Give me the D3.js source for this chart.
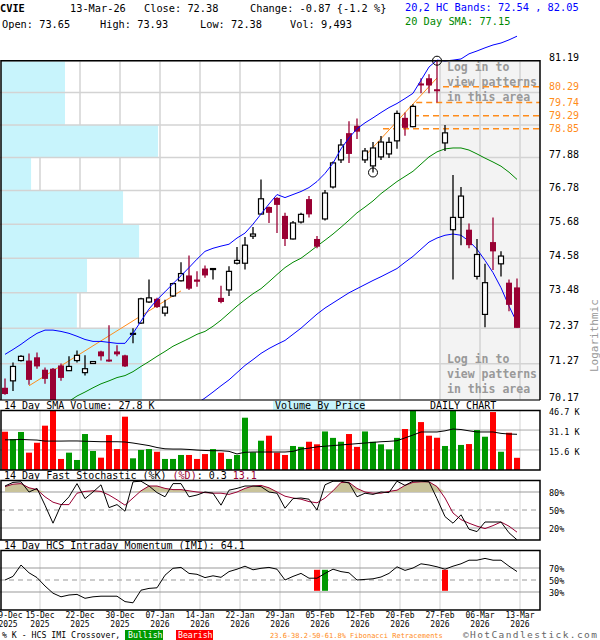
<!DOCTYPE html>
<html>
<head>
<meta charset="utf-8">
<script src="https://cdnjs.cloudflare.com/ajax/libs/d3/7.8.5/d3.min.js"></script>
<style>
body { margin: 0; background: #fff; }
svg { display: block; }
text { font-family: "DejaVu Sans Mono", "Liberation Mono", monospace; }
</style>
</head>
<body>
<div id="chart"></div>
<script>
// Daily data, 09-Dec-2025 .. 13-Mar-2026
var dates = ["2025-12-09","2025-12-10","2025-12-11","2025-12-12","2025-12-15","2025-12-16","2025-12-17","2025-12-18","2025-12-19",
	"2025-12-22","2025-12-23","2025-12-24","2025-12-26","2025-12-29","2025-12-30","2025-12-31",
	"2026-01-02","2026-01-05","2026-01-06","2026-01-07","2026-01-08","2026-01-09","2026-01-12","2026-01-13","2026-01-14","2026-01-15",
	"2026-01-16","2026-01-20","2026-01-21","2026-01-22","2026-01-23","2026-01-26","2026-01-27","2026-01-28","2026-01-29","2026-01-30",
	"2026-02-02","2026-02-03","2026-02-04","2026-02-05","2026-02-06","2026-02-09","2026-02-10","2026-02-11","2026-02-12","2026-02-13",
	"2026-02-17","2026-02-18","2026-02-19","2026-02-20","2026-02-23","2026-02-24","2026-02-25","2026-02-26","2026-02-27",
	"2026-03-02","2026-03-03","2026-03-04","2026-03-05","2026-03-06","2026-03-09","2026-03-10","2026-03-11","2026-03-12","2026-03-13"];

var opens = [70.54,70.75,71.37,71.37,71.47,71.09,71.12,71.22,71.06,71.37,71.00,71.28,71.65,71.40,71.65,71.53,
	72.18,72.53,73.19,73.29,72.84,73.38,73.86,74.03,73.90,74.25,74.24,73.32,73.57,74.42,74.42,75.29,76.01,76.24,76.54,75.95,
	75.20,75.75,76.50,75.20,75.85,76.90,77.80,78.70,78.95,77.80,77.60,77.90,78.00,78.44,79.22,78.92,80.40,80.58,80.20,
	78.37,75.50,75.90,75.50,74.00,72.80,75.10,74.40,73.80,73.65];
var highs = [70.82,71.31,71.53,71.59,71.62,71.16,71.14,71.28,71.50,71.68,71.53,71.36,71.67,72.46,71.84,71.55,
	72.37,73.32,73.90,73.32,73.26,73.80,74.45,74.67,74.16,74.35,74.27,73.70,74.32,74.94,75.26,75.59,77.15,76.26,76.56,76.05,
	75.78,76.05,76.60,75.30,76.80,77.75,78.50,79.10,79.20,78.20,78.40,78.60,78.56,79.47,79.40,79.68,80.58,80.72,81.19,
	78.98,77.30,76.90,75.70,75.20,74.40,75.90,74.80,73.90,73.93];
var lows = [70.33,70.44,71.34,70.63,71.12,70.66,70.05,70.75,71.06,71.31,70.91,71.27,71.37,71.33,71.50,71.17,
	71.90,72.50,73.16,73.00,72.74,73.35,73.84,73.57,73.67,73.96,73.90,73.15,73.38,74.38,74.22,75.20,76.00,75.72,75.39,74.97,
	75.18,75.70,75.90,74.90,75.80,76.85,77.70,77.70,78.50,77.70,77.38,77.80,77.86,78.17,78.61,78.90,80.06,80.06,79.74,
	78.10,73.90,75.00,74.90,73.90,72.40,74.20,74.00,72.90,72.38];
var closes = [70.35,71.19,71.50,70.78,71.19,70.81,70.07,70.84,71.19,71.53,71.12,71.34,71.50,71.34,71.56,71.19,
	72.21,73.29,73.32,73.03,73.03,73.77,74.09,73.61,73.83,74.03,74.25,73.19,74.16,74.51,75.00,75.36,76.51,76.05,76.31,75.20,
	75.72,76.00,76.00,74.95,76.70,77.70,78.30,78.00,78.75,78.10,78.20,78.40,78.39,79.37,78.88,79.61,80.33,80.33,80.13,
	78.71,75.90,76.60,75.00,74.70,73.80,74.80,74.65,73.10,72.38];
// volume, thousands of shares
var volumes = [29.8,24.1,29.6,13.5,21.2,34.5,46.7,8.6,13.5,7.8,28.0,14.8,9.6,27.2,16.3,41.5,
	9.1,15.6,16.3,14.2,8.6,8.6,11.7,11.7,8.6,12.4,16.3,13.5,8.6,11.7,40.7,13.8,22.8,26.7,13.5,11.7,
	18.7,18,22,20,30,25,22,28,18,30,22,20,16,25,31.9,46.1,37.3,26.7,25.1,
	18.7,46.1,19.5,20.2,31.1,25.9,45.1,14.2,29.0,9.493];
var volSma = [23.5,23.5,23.8,23.5,23.3,22.5,22.5,22.5,22.6,22.6,22.4,22.2,22.0,22.0,22.0,21.8,
	21.0,20.0,19.0,17.5,16.5,16.3,16.3,16.0,15.5,15.2,15.0,15.0,14.5,12.5,13.8,14.0,14.0,14.0,14.0,14.0,
	14.5,16.3,17.0,18.0,18.5,19.0,19.5,20.0,20.5,21.0,21.5,22.0,22.3,22.8,25.0,27.2,29.6,29.6,29.6,
	30.5,31.9,31.5,30.5,29.6,29.6,29.6,28.5,28.0,27.8];

var upperBand = [71.56,71.71,71.87,72.05,72.21,72.31,72.31,72.27,72.21,72.12,72.02,71.96,71.96,71.93,71.90,71.90,
	72.21,72.59,72.97,73.26,73.51,73.77,74.02,74.28,74.55,74.80,74.90,74.97,75.03,75.23,75.39,75.68,76.01,76.34,76.65,76.55,
	76.65,76.75,76.88,77.08,77.35,77.69,78.17,78.54,78.85,79.05,79.22,79.40,79.57,79.71,79.88,80.06,80.51,80.97,81.21,
	81.18,81.21,81.25,81.43,81.53,81.64,81.74,81.81,81.92,82.05];
var lowerBand = [null,null,null,null,null,null,null,null,null,null,null,null,null,null,null,null,
	null,null,null,null,null,null,null,null,70.07,70.23,70.41,70.60,70.78,71.00,71.22,71.40,71.59,71.74,71.87,71.99,
	72.18,72.37,72.59,72.81,73.00,73.16,73.32,73.48,73.61,73.74,73.87,73.99,74.12,74.25,74.45,74.64,74.87,75.10,75.23,
	75.32,75.36,75.32,75.13,74.87,74.51,74.12,73.64,73.06,72.54];
var sma20 = [null,null,null,null,null,null,null,null,70.13,70.29,70.41,70.54,70.66,70.75,70.85,70.91,
	71.03,71.19,71.34,71.50,71.65,71.81,71.93,72.05,72.18,72.27,72.43,72.62,72.84,73.06,73.26,73.45,73.61,73.83,74.06,74.28,
	74.45,74.58,74.77,74.97,75.16,75.36,75.58,75.81,76.05,76.24,76.44,76.68,76.88,77.08,77.25,77.42,77.66,77.90,78.07,
	78.17,78.20,78.20,78.13,78.00,77.86,77.73,77.59,77.39,77.15];

var stochK = [90,96,97,80,86,58,28,58,72,94,69,80,92,54,59,48,97,98,90,79,72,94,94,72,75,80,78,58,83,86,90,90,89,80,78,53,69,
	70,68,50,92,98,98,95,72,78,76,80,79,98,91,98,98,97,69,39,28,42,18,14,30,30,30,12,0.3];
var stochD = [89,93,94,87,84,72,63,59,59,78,81,82,81,75,67,58,70,82,90,90,86,84,84,82,80,79,78,78,76,80,86,90,91,87,80,73,70,
	68,64,62,70,82,96,96,86,80,78,78,81,83,91,96,97,97,89,70,45,34,28,23,19,24,30,23,13.1];
var imi = [50,56,75,62,54,40,28,22,25,26,19.5,22,23,23,23,14,12,33,36,37,58,69.5,71,61,59.5,54,57,54.5,64,68,73,67,69.5,71,68,50,56,
	61,53,53,61,68,64,62,50,51,52,55,61,72,66,70,77,75,72,68,73,77,83,83,86,83,83,73,64.1];

// IMI / %K crossovers: candle index and type
var crossIdx = [39, 40, 55];
var crossType = ["bear", "bull", "bear"];

// price axis levels and volume-by-price per level band (thousand shares)
var priceLevels = [81.19, 80.09, 78.98, 77.88, 76.78, 75.68, 74.58, 73.48, 72.37, 71.27, 70.17];
var vbpVolume = [91.5, 91.5, 224.5, 43, 174.5, 197.5, 123, 108.5, 201.5, 201.5];

// fibonacci retracements of the 77.38 -> 81.19 swing
var fibLevels = [80.29, 79.74, 79.29, 78.85];
var fibStart = [54.75, 51.4, 51, 47.25];
var swingHigh = {i: 54, p: 81.19};
var swingLow = {i: 46, p: 77.38};

// trendlines [index, price] pairs
var trendLines = [
	[[3, 70.60], [22, 73.54]],
	[[45, 77.93], [54, 80.59]]
];

var tickIdx = [0, 4, 9, 14, 19, 24, 29, 34, 39, 44, 49, 54, 59, 64];
var volTicks = [46.7, 31.1, 15.6];
var stochTicks = [80, 50, 20];
var imiTicks = [70, 50, 30];

var red = "#990033",
	grid = "#d3d3d3";

var svg = d3.select("#chart")
	.append("svg")
	.attr("width", 600)
	.attr("height", 640);

var parseDate = d3.timeParse("%Y-%m-%d");
var fmtDay = d3.timeFormat("%d-%b"),
	fmtYear = d3.timeFormat("%Y");

var data = dates.map(function (d, i) {
	return {
		i: i, date: parseDate(d), o: opens[i], h: highs[i], l: lows[i], c: closes[i],
		v: volumes[i], up: closes[i] >= opens[i]
	};
});

// scales
var x = d3.scaleLinear().domain([0, 64]).range([5, 517]);
var y = d3.scaleLog().domain([70.17, 81.19]).range([400, 60.7]);
var yVol = d3.scaleLinear().domain([0, 46.7]).range([470, 410]);
var yStoch = d3.scaleLinear().domain([0, 100]).range([540, 480]);
var yImi = d3.scaleLinear().domain([0, 100]).range([610, 550]);
var xVbp = d3.scaleLinear().domain([0, d3.max(vbpVolume)]).range([0, 157]);

function gx(i) { return x(i) + 3; }
var right = 540;

svg.append("defs").append("clipPath").attr("id", "pclip")
	.append("rect").attr("x", 0).attr("y", 0).attr("width", right).attr("height", 400);

// ---------- header ----------
var hdr = svg.append("g").attr("font-size", 10.3);
hdr.append("text").attr("x", 0).attr("y", 12).attr("font-weight", "bold").text("CVIE");
hdr.append("text").attr("x", 70).attr("y", 12).text("13-Mar-26");
hdr.append("text").attr("x", 144).attr("y", 12).text("Close: 72.38");
hdr.append("text").attr("x", 250).attr("y", 12).text("Change: -0.87 {-1.2 %}");
hdr.append("text").attr("x", 2).attr("y", 28).text("Open: 73.65");
hdr.append("text").attr("x", 100).attr("y", 28).text("High: 73.93");
hdr.append("text").attr("x", 200).attr("y", 28).text("Low: 72.38");
hdr.append("text").attr("x", 290).attr("y", 28).text("Vol: 9,493");
hdr.append("text").attr("x", 405).attr("y", 11).attr("fill", "#0000ff").text("20,2 HC Bands: 72.54 , 82.05");
hdr.append("text").attr("x", 405).attr("y", 25).attr("fill", "#008800").text("20 Day SMA: 77.15");

// ---------- price panel ----------
var pg = svg.append("g");
var xLogin = gx(54);

pg.append("rect").attr("x", xLogin).attr("y", 60.7).attr("width", right - xLogin).attr("height", 400 - 60.7)
	.attr("fill", "#f3f3f3");

// vertical grid
pg.selectAll(".vg").data(tickIdx.slice(1)).enter().append("line")
	.attr("x1", gx).attr("x2", gx).attr("y1", 60.7).attr("y2", 400)
	.attr("stroke", grid).attr("stroke-width", 1.5);

// volume by price
pg.selectAll(".vbp").data(vbpVolume).enter().append("rect")
	.attr("x", 1)
	.attr("y", function (d, k) { return y(priceLevels[k]); })
	.attr("width", function (d) { return xVbp(d); })
	.attr("height", function (d, k) { return y(priceLevels[k + 1]) - y(priceLevels[k]); })
	.attr("fill", "#c8f4fc");

// horizontal grid
pg.selectAll(".hg").data(priceLevels).enter().append("line")
	.attr("x1", 0).attr("x2", right).attr("y1", y).attr("y2", y)
	.attr("stroke", grid).attr("stroke-width", 1.5);

// login notes
var lg = pg.append("g").attr("fill", "#999").attr("font-size", 11.5).attr("font-weight", "bold");
["Log in to", "view patterns", "in this area"].forEach(function (t, k) {
	lg.append("text").attr("x", 447).attr("y", 71 + 15 * k).text(t);
	lg.append("text").attr("x", 447).attr("y", 363 + 15 * k).text(t);
});

// axis labels
var yl = svg.append("g").attr("font-size", 10);
yl.selectAll("text").data(priceLevels.filter(function (p) { return p !== 80.09 && p !== 78.98; }))
	.enter().append("text")
	.attr("x", 549).attr("y", function (d) { return y(d) + 0.5; })
	.text(function (d) { return d.toFixed(2); });
yl.selectAll(".fl").data(fibLevels).enter().append("text")
	.attr("x", 549).attr("y", function (d) { return y(d) + 3.5; })
	.attr("fill", "#ff8c1a")
	.text(function (d) { return d.toFixed(2); });

svg.append("text").attr("transform", "translate(598,372) rotate(-90)")
	.attr("font-size", 11).attr("fill", "#999").text("Logarithmic");

var plot = pg.append("g").attr("clip-path", "url(#pclip)");

// fib lines
plot.selectAll(".fib").data(fibLevels).enter().append("line")
	.attr("x1", function (d, k) { return x(fibStart[k]); }).attr("x2", right)
	.attr("y1", y).attr("y2", y)
	.attr("stroke", "#ff8c1a").attr("stroke-width", 1.5).attr("stroke-dasharray", "6,4");

// bands and sma
function bandLine(arr) {
	return d3.line()
		.defined(function (d) { return d !== null; })
		.x(function (d, i) { return x(i); })
		.y(function (d) { return y(d); })(arr);
}
plot.append("path").attr("d", bandLine(lowerBand)).attr("fill", "none").attr("stroke", "#0000ff");
plot.append("path").attr("d", bandLine(sma20)).attr("fill", "none").attr("stroke", "#008800");
// upper band is allowed above the frame
pg.append("path").attr("d", bandLine(upperBand)).attr("fill", "none").attr("stroke", "#0000ff");

// trendlines
plot.selectAll(".tl").data(trendLines).enter().append("line")
	.attr("x1", function (d) { return x(d[0][0]); }).attr("y1", function (d) { return y(d[0][1]); })
	.attr("x2", function (d) { return x(d[1][0]); }).attr("y2", function (d) { return y(d[1][1]); })
	.attr("stroke", "#ff8c1a");

// candles
var cg = plot.selectAll(".candle").data(data).enter().append("g");
cg.append("line")
	.attr("x1", function (d) { return x(d.i); }).attr("x2", function (d) { return x(d.i); })
	.attr("y1", function (d) { return y(d.h); }).attr("y2", function (d) { return y(d.l); })
	.attr("stroke", function (d) { return d.up ? "#000" : red; }).attr("stroke-width", 1.3);
cg.append("rect")
	.attr("x", function (d) { return d.up ? x(d.i) - 2.5 : x(d.i) - 3; })
	.attr("width", function (d) { return d.up ? 5 : 6; })
	.attr("y", function (d) { return y(Math.max(d.o, d.c)); })
	.attr("height", function (d) { return Math.max(1, Math.abs(y(d.o) - y(d.c))); })
	.attr("fill", function (d) { return d.up ? "#fff" : red; })
	.attr("stroke", function (d) { return d.up ? "#000" : "none"; })
	.attr("stroke-width", 1.2);

// swing markers
[swingHigh, swingLow].forEach(function (s) {
	pg.append("circle").attr("cx", x(s.i)).attr("cy", y(s.p)).attr("r", 4.5)
		.attr("fill", "none").attr("stroke", "#000");
});

// frame
pg.append("path").attr("d", "M1,400V60.7H" + right + "V400").attr("fill", "none").attr("stroke", "#000").attr("stroke-width", 1.5);
pg.append("line").attr("x1", 0).attr("x2", right).attr("y1", 400).attr("y2", 400).attr("stroke", "#000");

// ---------- volume panel ----------
var vg = svg.append("g");
vg.append("rect").attr("x", 273).attr("y", 401).attr("width", 92).attr("height", 9).attr("fill", "#c8f4fc");
vg.append("text").attr("x", 4).attr("y", 409).attr("font-size", 10).text("14 Day SMA Volume: 27.8 K");
vg.append("text").attr("x", 275).attr("y", 409).attr("font-size", 10).text("Volume By Price");
vg.append("text").attr("x", 430).attr("y", 409).attr("font-size", 10).text("DAILY CHART");

vg.selectAll(".vgx").data(tickIdx.slice(1)).enter().append("line")
	.attr("x1", gx).attr("x2", gx).attr("y1", 410).attr("y2", 470).attr("stroke", grid);
vg.selectAll(".vgy").data(volTicks.slice(1)).enter().append("line")
	.attr("x1", 0).attr("x2", right).attr("y1", yVol).attr("y2", yVol).attr("stroke", "#aaa");

vg.selectAll(".vbar").data(data).enter().append("rect")
	.attr("x", function (d) { return x(d.i) - 3; }).attr("width", 6)
	.attr("y", function (d) { return yVol(d.v); })
	.attr("height", function (d) { return 470 - yVol(d.v); })
	.attr("fill", function (d) { return d.up ? "#009900" : "#ff0000"; });

vg.append("path")
	.attr("d", d3.line().x(function (d, i) { return x(i); }).y(function (d) { return yVol(d); })(volSma))
	.attr("fill", "none").attr("stroke", "#000");

vg.append("path").attr("d", "M1,470V410.5H" + right + "V470H0").attr("fill", "none").attr("stroke", "#000").attr("stroke-width", 1.5);
vg.selectAll(".vl").data(volTicks).enter().append("text")
	.attr("x", 549).attr("y", function (d) { return yVol(d) + 5; })
	.attr("font-size", 8.5).text(function (d) { return d.toFixed(1) + " K"; });

// ---------- stochastic panel ----------
var sg = svg.append("g");
var sh = sg.append("text").attr("x", 4).attr("y", 479).attr("font-size", 10);
sh.append("tspan").text("14 Day Fast Stochastic (%K) ");
sh.append("tspan").attr("fill", red).text("(%D)");
sh.append("tspan").text(": 0.3    ");
sh.append("tspan").attr("fill", red).text("13.1");

sg.selectAll(".sgx").data(tickIdx.slice(1)).enter().append("line")
	.attr("x1", gx).attr("x2", gx).attr("y1", 480).attr("y2", 540).attr("stroke", grid);
sg.selectAll(".sgy").data(stochTicks).enter().append("line")
	.attr("x1", 0).attr("x2", right).attr("y1", yStoch).attr("y2", yStoch)
	.attr("stroke", "#999").attr("stroke-dasharray", function (d) { return d === 50 ? "5,4" : null; });

sg.append("path")
	.attr("d", d3.area().x(function (d, i) { return x(i); })
		.y0(yStoch(80)).y1(function (d) { return yStoch(Math.max(80, d)); })(stochD))
	.attr("fill", "#c9c39a");
sg.append("path")
	.attr("d", d3.line().x(function (d, i) { return x(i); }).y(function (d) { return yStoch(d); })(stochD))
	.attr("fill", "none").attr("stroke", red);
sg.append("path")
	.attr("d", d3.line().x(function (d, i) { return x(i); }).y(function (d) { return yStoch(d); })(stochK))
	.attr("fill", "none").attr("stroke", "#000");

sg.append("path").attr("d", "M1,540V480.5H" + right + "V540H0").attr("fill", "none").attr("stroke", "#000").attr("stroke-width", 1.5);
sg.selectAll(".sl").data(stochTicks).enter().append("text")
	.attr("x", 549).attr("y", function (d) { return yStoch(d) + 3.5; })
	.attr("font-size", 8.5).text(function (d) { return d + "%"; });

// ---------- IMI panel ----------
var ig = svg.append("g");
ig.append("text").attr("x", 4).attr("y", 549).attr("font-size", 10).text("14 Day HCS Intraday Momentum (IMI): 64.1");

ig.selectAll(".igx").data(tickIdx.slice(1)).enter().append("line")
	.attr("x1", gx).attr("x2", gx).attr("y1", 550).attr("y2", 610).attr("stroke", grid);
ig.selectAll(".igy").data(imiTicks).enter().append("line")
	.attr("x1", 0).attr("x2", right).attr("y1", yImi).attr("y2", yImi)
	.attr("stroke", "#999").attr("stroke-dasharray", function (d) { return d === 50 ? "5,4" : null; });

ig.selectAll(".cross").data(crossIdx).enter().append("rect")
	.attr("x", function (d) { return x(d) - 3; }).attr("width", 6)
	.attr("y", yImi(67)).attr("height", yImi(32) - yImi(67))
	.attr("fill", function (d, k) { return crossType[k] === "bull" ? "#009900" : "#ff0000"; });

ig.append("path")
	.attr("d", d3.line().x(function (d, i) { return x(i); }).y(function (d) { return yImi(d); })(imi))
	.attr("fill", "none").attr("stroke", "#000");

ig.append("path").attr("d", "M1,610V550.5H" + right + "V610H0").attr("fill", "none").attr("stroke", "#000").attr("stroke-width", 1.5);
ig.selectAll(".il").data(imiTicks).enter().append("text")
	.attr("x", 549).attr("y", function (d) { return yImi(d) + 3.5; })
	.attr("font-size", 8.5).text(function (d) { return d + "%"; });

// ---------- date axis ----------
var xa = svg.append("g").attr("font-size", 8).attr("text-anchor", "middle");
tickIdx.forEach(function (i) {
	xa.append("text").attr("x", gx(i)).attr("y", 618).text(fmtDay(data[i].date));
	xa.append("text").attr("x", gx(i)).attr("y", 627).text(fmtYear(data[i].date));
});

// ---------- footer ----------
var ft = svg.append("g").attr("font-size", 8.2);
ft.append("text").attr("x", 2).attr("y", 638).text("% K - HCS IMI Crossover,");
ft.append("rect").attr("x", 125).attr("y", 630).attr("width", 38).attr("height", 10).attr("fill", "#009900");
ft.append("text").attr("x", 128).attr("y", 638).attr("fill", "#fff").text("Bullish");
ft.append("rect").attr("x", 176).attr("y", 630).attr("width", 37).attr("height", 10).attr("fill", "#ff0000");
ft.append("text").attr("x", 178).attr("y", 638).attr("fill", "#fff").text("Bearish");
ft.append("text").attr("x", 270).attr("y", 638).attr("font-size", 7).attr("fill", "#ff8c1a")
	.text("23.6-38.2-50-61.8% Fibonacci Retracements");
ft.append("text").attr("x", 463).attr("y", 637.7).attr("font-size", 9.5).attr("letter-spacing", 1.4).attr("fill", "#666")
	.text("\u00a9HotCandlestick.com");
</script>
</body>
</html>
